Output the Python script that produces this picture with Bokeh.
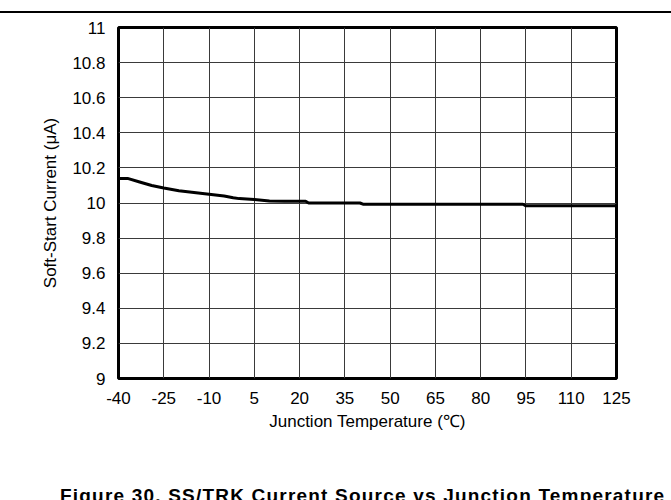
from bokeh.plotting import figure
from bokeh.models import FixedTicker, ColumnDataSource, Div
from bokeh.layouts import column
from bokeh.embed import file_html
from bokeh.resources import INLINE

# Data
temps = [-40, -37, -33, -29, -25, -20, -15, -10, -5, -2, 0, 5, 10, 15, 20, 22, 23, 40, 41, 94, 95, 125]
current = [10.14, 10.14, 10.12, 10.10, 10.085, 10.07, 10.06, 10.05, 10.04, 10.03, 10.025, 10.02,
           10.012, 10.01, 10.01, 10.01, 10.0, 10.0, 9.993, 9.993, 9.984, 9.984]

x_ticks = [-40, -25, -10, 5, 20, 35, 50, 65, 80, 95, 110, 125]
x_tick_labels = ["-40", "-25", "-10", "5", "20", "35", "50", "65", "80", "95", "110", "125"]
y_ticks = [9, 9.2, 9.4, 9.6, 9.8, 10, 10.2, 10.4, 10.6, 10.8, 11]
y_tick_labels = ["9", "9.2", "9.4", "9.6", "9.8", "10", "10.2", "10.4", "10.6", "10.8", "11"]

x_label = "Junction Temperature (\u2103)"
y_label = "Soft-Start Current (\u03bcA)"
caption = "Figure 30. SS/TRK Current Source vs Junction Temperature"

FONT = "Liberation Sans"

# header rule of the page (top)
top_rule = Div(text="", width=671, height=11, margin=(0, 0, 0, 0),
               styles={"border-bottom": "2px solid black", "box-sizing": "content-box"})

p = figure(width=671, height=473, output_backend="svg", toolbar_location=None,
           x_range=(-40, 125), y_range=(9, 11), margin=(0, 0, 0, 0),
           min_border_left=118, min_border_right=55, min_border_top=14, min_border_bottom=108)
p.background_fill_color = "white"
p.border_fill_color = "white"
p.outline_line_color = "black"
p.outline_line_width = 3

src = ColumnDataSource(dict(t=temps, i=current))
p.line("t", "i", source=src, line_color="black", line_width=3)

for ax in (p.xaxis[0], p.yaxis[0]):
    ax.axis_line_color = None
    ax.major_tick_line_color = None
    ax.minor_tick_line_color = None
    ax.major_label_text_font = FONT
    ax.major_label_text_font_size = "17px"
    ax.major_label_text_color = "black"
    ax.axis_label_text_font = FONT
    ax.axis_label_text_font_size = "17px"
    ax.axis_label_text_font_style = "normal"
    ax.axis_label_text_color = "black"

p.xaxis[0].ticker = FixedTicker(ticks=x_ticks)
p.yaxis[0].ticker = FixedTicker(ticks=y_ticks)
p.xaxis[0].major_label_overrides = {t: l for t, l in zip(x_ticks, x_tick_labels)}
p.yaxis[0].major_label_overrides = {t: l for t, l in zip(y_ticks, y_tick_labels)}
p.xaxis[0].major_label_standoff = 7
p.yaxis[0].major_label_standoff = 7
p.xaxis[0].axis_label = x_label
p.yaxis[0].axis_label = y_label
p.xaxis[0].axis_label_standoff = 5
p.yaxis[0].axis_label_standoff = 9

p.xgrid[0].ticker = FixedTicker(ticks=x_ticks)
p.ygrid[0].ticker = FixedTicker(ticks=y_ticks)
p.xgrid.grid_line_color = "#3a3a3a"
p.ygrid.grid_line_color = "#3a3a3a"
p.xgrid.grid_line_width = 1
p.ygrid.grid_line_width = 1

# figure caption (cut off at the bottom edge in the reference)
cap = Div(text=caption, width=671, height=14, margin=(0, 0, 0, 0),
          styles={"font-family": FONT, "font-size": "19px", "font-weight": "bold",
                  "letter-spacing": "1.2px",
                  "line-height": "19px", "padding-left": "60px", "white-space": "nowrap",
                  "overflow": "hidden", "color": "black", "box-sizing": "border-box"})

layout = column(top_rule, p, cap, spacing=0, margin=(0, 0, 0, 0))

open("out.html", "w").write(file_html(layout, INLINE))
